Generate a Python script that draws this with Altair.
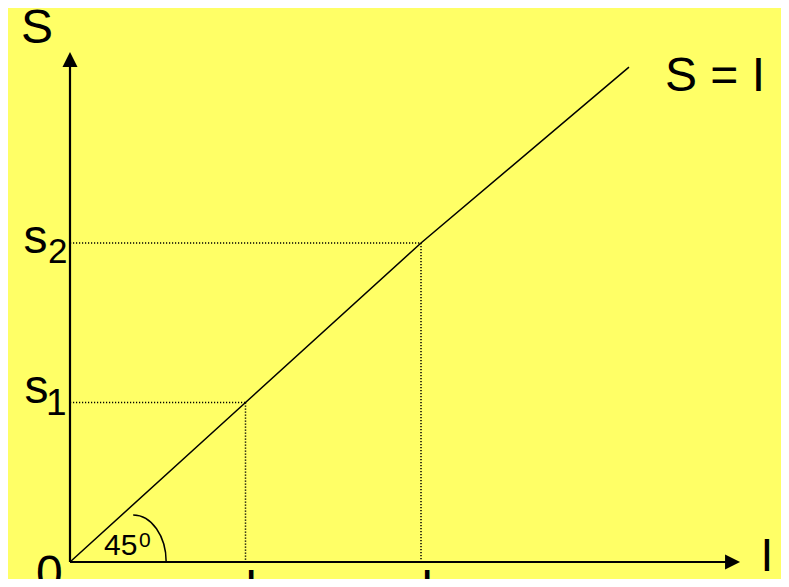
import altair as alt
import pandas as pd

# ---------------- data ----------------
s_levels = [1, 2]                 # s1, s2 on the S axis
i_levels = [1, 2]                 # I1, I2 on the I axis
line_x = [0, 1, 2, 3.185]         # S = I line
line_y = [0, 1, 2, 3.103]
x_axis_end = 3.818                # tip of I-axis arrow
y_axis_end = 3.197                # tip of S-axis arrow
arc_center_x = 0.36               # 45° angle marker centre on I axis

label_text = ["S", "S = I", "s", "2", "s", "1", "0", "I", "45", "0", "I", "1", "I", "2"]
label_anchor_x = [0, 3.185, 0, 0, 0, 0, 0, 3.818, 0, 0, 1, 1, 2, 2]
label_anchor_y = [3.197, 3.103, 2, 2, 1, 1, 0, 0, 0, 0, 0, 0, 0, 0]

# ---------------- layout / style ----------------
W, H = 773, 571
PX_X, PX_Y = 175.5, 159.5
ORIGIN = (62, 554)
label_dx = [-49, 36, -46.5, -22, -45.5, -24, -34, 20.5, 34, 69, -1, 14, -0.5, 14]
label_dy = [-9, 24, 10, 20, 0, 12, 27, 9, -7, -15, 41, 50, 41, 50]
label_size = [48, 48, 48, 35, 48, 37, 48, 46, 30, 21, 48, 35, 48, 35]
FONT = "Liberation Sans"

x_dom = [-ORIGIN[0] / PX_X, (W - ORIGIN[0]) / PX_X]
y_dom = [-(H - ORIGIN[1]) / PX_Y, ORIGIN[1] / PX_Y]
xs = alt.Scale(domain=x_dom, nice=False, zero=False)
ys = alt.Scale(domain=y_dom, nice=False, zero=False)

# guides (dotted)
g_rows = []
for s, i in zip(s_levels, i_levels):
    g_rows.append({"x": 0, "y": s, "x2": i, "y2": s})
    g_rows.append({"x": i, "y": s, "x2": i, "y2": 0})
guides = alt.Chart(pd.DataFrame(g_rows)).mark_rule(
    color="black", strokeWidth=1.5, strokeDash=[1.2, 1.8]
).encode(
    x=alt.X("x:Q", scale=xs, axis=None), y=alt.Y("y:Q", scale=ys, axis=None),
    x2="x2:Q", y2="y2:Q",
)

axes_df = pd.DataFrame([
    {"x": 0, "y": 0, "x2": x_axis_end - 0.02, "y2": 0},
    {"x": 0, "y": 0, "x2": 0, "y2": y_axis_end - 0.02},
])
axes = alt.Chart(axes_df).mark_rule(color="black", strokeWidth=2.2).encode(
    x=alt.X("x:Q", scale=xs, axis=None), y=alt.Y("y:Q", scale=ys, axis=None),
    x2="x2:Q", y2="y2:Q",
)

diag = alt.Chart(pd.DataFrame({"x": line_x, "y": line_y})).mark_line(
    color="black", strokeWidth=1.5
).encode(
    x=alt.X("x:Q", scale=xs, axis=None), y=alt.Y("y:Q", scale=ys, axis=None),
    order="x:Q",
)

arrow_x = alt.Chart(pd.DataFrame({"x": [x_axis_end], "y": [0]})).mark_point(
    shape="M0,0L-2,-1L-2,1Z", size=225, filled=True, color="black", opacity=1
).encode(x=alt.X("x:Q", scale=xs, axis=None), y=alt.Y("y:Q", scale=ys, axis=None))

arrow_y = alt.Chart(pd.DataFrame({"x": [0], "y": [y_axis_end]})).mark_point(
    shape="M0,0L-1,2L1,2Z", size=225, filled=True, color="black", opacity=1
).encode(x=alt.X("x:Q", scale=xs, axis=None), y=alt.Y("y:Q", scale=ys, axis=None))

arc = alt.Chart(pd.DataFrame({"x": [arc_center_x], "y": [0]})).mark_point(
    shape="M0,-47A33,47 0 0 1 33,0", size=4, filled=False, color="black",
    strokeWidth=1.5, opacity=1
).encode(x=alt.X("x:Q", scale=xs, axis=None), y=alt.Y("y:Q", scale=ys, axis=None))

lab = pd.DataFrame({
    "text": label_text,
    "x": [ax + dx / PX_X for ax, dx in zip(label_anchor_x, label_dx)],
    "y": [ay - dy / PX_Y for ay, dy in zip(label_anchor_y, label_dy)],
    "size": label_size,
})
labels = alt.Chart(lab).mark_text(
    align="left", baseline="alphabetic", font=FONT, color="black"
).encode(
    x=alt.X("x:Q", scale=xs, axis=None), y=alt.Y("y:Q", scale=ys, axis=None),
    text="text:N", size=alt.Size("size:Q", scale=None, legend=None),
)

chart = alt.layer(guides, axes, diag, arrow_x, arrow_y, arc, labels).properties(
    width=W, height=H, padding=0, autosize=alt.AutoSizeParams(type="none"),
    background="#FFFF66",
).configure_view(stroke=None)

chart.save("out.html", embed_options={"renderer": "svg", "actions": False})
